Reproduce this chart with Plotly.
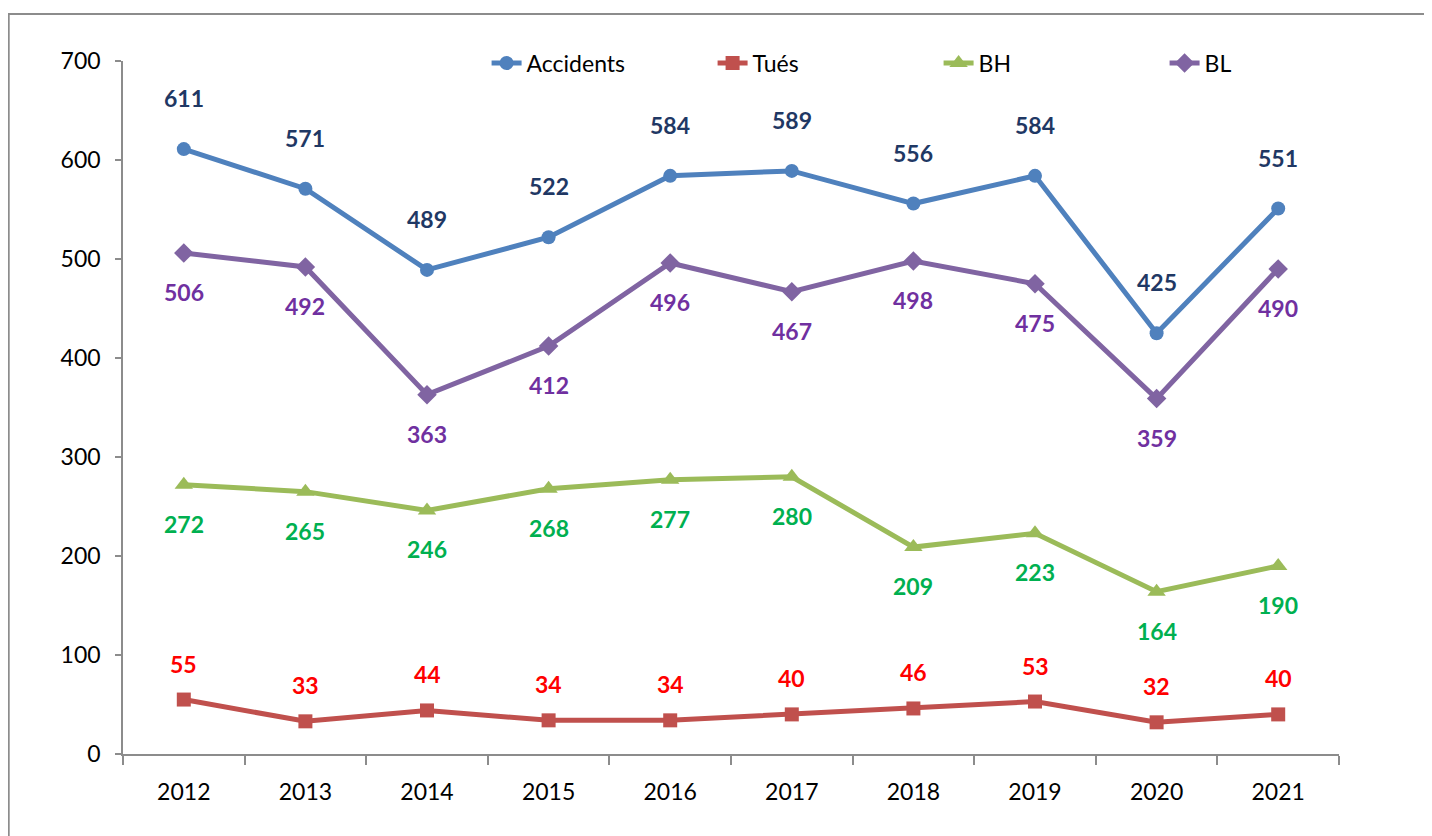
import plotly.graph_objects as go

years = ["2012", "2013", "2014", "2015", "2016", "2017", "2018", "2019", "2020", "2021"]
accidents = [611, 571, 489, 522, 584, 589, 556, 584, 425, 551]
tues = [55, 33, 44, 34, 34, 40, 46, 53, 32, 40]
bh = [272, 265, 246, 268, 277, 280, 209, 223, 164, 190]
bl = [506, 492, 363, 412, 496, 467, 498, 475, 359, 490]
y_ticks = [0, 100, 200, 300, 400, 500, 600, 700]

FONT = "Lato"
series = [
    dict(name="Accidents", y=accidents, color="#4F81BD", symbol="circle", size=14,
         label_color="#1F3864", shift=51),
    dict(name="Tués", y=tues, color="#C0504D", symbol="square", size=14,
         label_color="#FF0000", shift=36),
    dict(name="BH", y=bh, color="#9BBB59", symbol="triangle-up", size=16,
         label_color="#00B050", shift=-39),
    dict(name="BL", y=bl, color="#8064A2", symbol="diamond", size=15,
         label_color="#7030A0", shift=-39),
]

fig = go.Figure()
annotations = []
for s in series:
    fig.add_trace(go.Scatter(
        x=years, y=s["y"], name=s["name"], mode="lines+markers",
        line=dict(color=s["color"], width=5),
        marker=dict(symbol=s["symbol"], size=s["size"], color=s["color"]),
    ))
    for i, yv in enumerate(s["y"]):
        annotations.append(dict(
            x=i, y=yv, xref="x", yref="y", text=str(yv), showarrow=False,
            yshift=s["shift"], font=dict(family=FONT, size=23, color=s["label_color"],
                                         weight="bold"),
        ))

fig.update_layout(
    width=1432, height=836,
    margin=dict(l=115, r=101, t=53, b=90),
    paper_bgcolor="white", plot_bgcolor="white",
    font=dict(family=FONT, size=23, color="black"),
    showlegend=True,
    legend=dict(orientation="h", xref="paper", yref="paper",
                x=0.299, y=0.997, xanchor="left", yanchor="middle",
                entrywidth=181, entrywidthmode="pixels",
                font=dict(family=FONT, size=23, color="black"),
                bgcolor="rgba(0,0,0,0)"),
    annotations=annotations,
    shapes=[dict(type="rect", xref="paper", yref="paper",
                 x0=-0.094, x1=1.1, y0=-0.15, y1=1.068,
                 line=dict(color="#8C8C8C", width=2), fillcolor="rgba(0,0,0,0)",
                 layer="below")],
)
fig.update_xaxes(
    type="category", range=[-0.5, 9.5], tickson="boundaries",
    showline=True, linecolor="#8C8C8C", linewidth=1.5,
    ticks="outside", ticklen=9, tickcolor="#8C8C8C", tickwidth=1.5,
    showgrid=False, zeroline=False, ticklabelstandoff=17,
)
fig.update_yaxes(
    range=[0, 700], tickvals=y_ticks, showline=True, linecolor="#8C8C8C", linewidth=1.5,
    ticks="outside", ticklen=6, tickcolor="#8C8C8C", tickwidth=1.5,
    showgrid=False, zeroline=False, ticklabelstandoff=10,
)

fig.write_html("out.html")
